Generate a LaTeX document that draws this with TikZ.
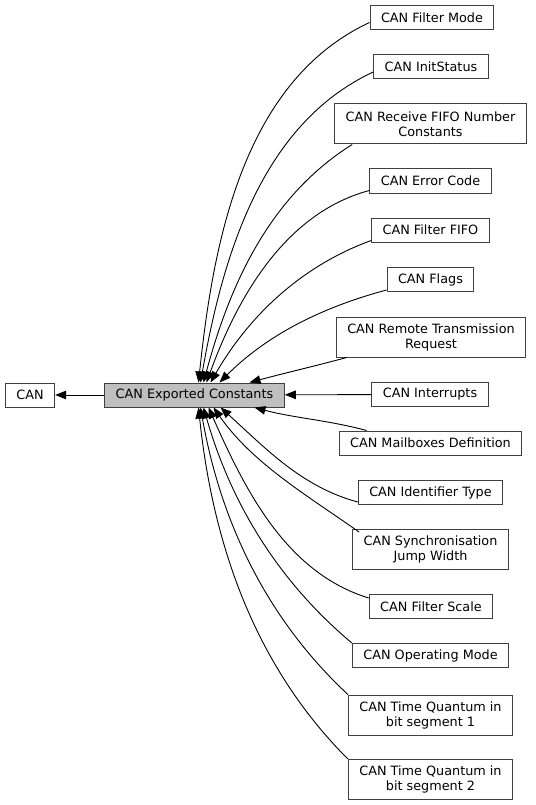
\documentclass[tikz,border=0pt]{standalone}
\usepackage{fontspec}
\setmainfont{DejaVu Sans}
\usetikzlibrary{arrows.meta}
\definecolor{dxborder}{RGB}{64,64,64}
\definecolor{dxgrey}{RGB}{191,191,191}

\begin{document}
\begin{tikzpicture}[
x=1pt, y=1pt,
grp/.style = {
	draw=dxborder,
	line width=1pt,
	align=center,
	inner xsep=11pt,
	inner ysep=3pt,
	minimum height=24pt,
	font=\fontsize{12.8}{15}\selectfont
	},
grpTwo/.style = {
	grp,
	minimum height=40pt
	},
cur/.style = {
	grp,
	fill=dxgrey
	},
depArr/.style = {
	-{Triangle[length=11pt,width=8.5pt]},
	line width=0.9pt,
	looseness=.9
	}
]
\useasboundingbox (0,0) rectangle (535,-805);

% MAIN NODES
\node [grp] (can) at (30,-395) {CAN};
\node [cur] (exp) at (194.5,-395) {CAN Exported Constants};

% CONSTANT GROUPS
\node [grp] (constA) at (432,-17.5) {CAN Filter Mode};
\node [grp] (constB) at (431,-67) {CAN InitStatus};
\node [grpTwo] (constC) at (430.5,-124) {CAN Receive FIFO Number\\Constants};
\node [grp] (constD) at (430.5,-181) {CAN Error Code};
\node [grp] (constE) at (430.5,-230) {CAN Filter FIFO};
\node [grp] (constF) at (430.5,-279.5) {CAN Flags};
\node [grpTwo] (constG) at (431,-337) {CAN Remote Transmission\\Request};
\node [grp] (constH) at (430,-394.5) {CAN Interrupts};
\node [grp] (constI) at (430.5,-443) {CAN Mailboxes Definition};
\node [grp] (constJ) at (430.5,-492.5) {CAN Identifier Type};
\node [grpTwo] (constK) at (430.5,-549.5) {CAN Synchronisation\\Jump Width};
\node [grp] (constL) at (431,-606.5) {CAN Filter Scale};
\node [grp] (constM) at (430.5,-655.5) {CAN Operating Mode};
\node [grpTwo] (constN) at (430.5,-715) {CAN Time Quantum in\\bit segment 1};
\node [grpTwo] (constO) at (430.5,-779.5) {CAN Time Quantum in\\bit segment 2};

% PATHS
\draw [depArr] (exp) -- (can);
\draw [depArr] ([yshift=-5pt]constA.west) to[out=205,in=84] ([xshift=4pt]exp.north);
\draw [depArr] ([yshift=-5pt]constB.west) to[out=205,in=80] ([xshift=6pt]exp.north);
\draw [depArr] ([xshift=18pt]constC.south west) to[out=212,in=75] ([xshift=9pt]exp.north);
\draw [depArr] ([yshift=3pt]constD.south west) to[out=195,in=70] ([xshift=12pt]exp.north);
\draw [depArr] ([yshift=2pt]constE.south west) to[out=200,in=60] ([xshift=16pt]exp.north);
\draw [depArr] ([yshift=2pt]constF.south west) to[out=195,in=45] ([xshift=25pt]exp.north);
\draw [depArr] ([xshift=11pt]constG.south west) to[out=195,in=15] ([xshift=55pt]exp.north);
\draw [depArr] (constH) -- (exp);
\draw [depArr] ([xshift=28pt]constI.north west) to[out=165,in=-15] ([xshift=60pt]exp.south);
\draw [depArr] ([yshift=3pt]constJ.south west) to[out=165,in=-42] ([xshift=26pt]exp.south);
\draw [depArr] ([xshift=7pt,yshift=-3pt]constK.north west) to[out=145,in=-55] ([xshift=19pt]exp.south);
\draw [depArr] ([yshift=-4pt]constL.north west) to[out=163,in=-66] ([xshift=14pt]exp.south);
\draw [depArr] (constM.north west) to[out=140,in=-74] ([xshift=9pt]exp.south);
\draw [depArr] (constN.north west) to[out=137,in=-80] ([xshift=6pt]exp.south);
\draw [depArr] (constO.north west) to[out=135,in=-84] ([xshift=4pt]exp.south);
\end{tikzpicture}
\end{document}
